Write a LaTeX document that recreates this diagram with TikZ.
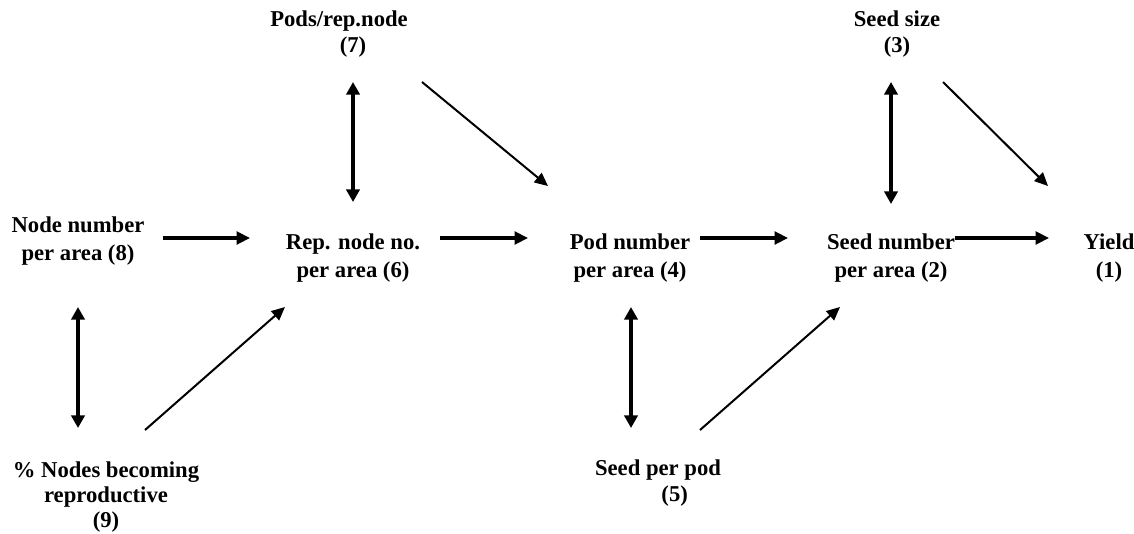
\documentclass[tikz,border=0pt]{standalone}
\usepackage{fontspec}
\setmainfont{Liberation Serif}
\usetikzlibrary{arrows.meta,calc}
\begin{document}
\begin{tikzpicture}[x=0.75pt,y=-0.75pt,
  lbl/.style={align=center,inner sep=0pt,font=\fontsize{17}{21}\selectfont\bfseries},
  lbltop/.style={lbl,font=\fontsize{17}{19.5}\selectfont\bfseries},
  lblthree/.style={lbl,font=\fontsize{17}{18.75}\selectfont\bfseries},
  thickarr/.style={line width=2.3pt,-{Triangle[length=10pt,width=9.5pt]}},
  thickdbl/.style={line width=2.3pt,{Triangle[length=9.5pt,width=10pt]}-{Triangle[length=9.5pt,width=10pt]}},
  thinarr/.style={line width=1.5pt,-{Triangle[length=10pt,width=9pt]}}]
\useasboundingbox (0,0) rectangle (1134,533);
\node[lbl] (n8) at (78,241) {Node number\\per area (8)};
\node[lbl] (n6) at (353,258) {Rep. node no.\\per area (6)};
\node[lbl] (n4) at (630,258) {Pod number\\per area (4)};
\node[lbl] (n2) at (891,258) {Seed number\\per area (2)};
\node[lbl] (n1) at (1109,258) {Yield\\(1)};
\node[lbltop] (n7) at (339,34) {Pods/rep.node\\\hspace*{21pt}(7)};
\node[lbltop] (n3) at (897,34) {Seed size\\(3)};
\node[lblthree] (n9) at (106,497) {\% Nodes becoming\\reproductive\\(9)};
\node[lbltop] (n5) at (658,483) {Seed per pod\\\hspace*{25pt}(5)};
% horizontal
\draw[thickarr] ($(n8)+(85,-3)$) -- ($(n6)+(-103,-20)$);
\draw[thickarr] ($(n6)+(87,-20)$) -- ($(n4)+(-102,-20)$);
\draw[thickarr] ($(n4)+(70,-20)$) -- ($(n2)+(-103,-20)$);
\draw[thickarr] ($(n2)+(64,-20)$) -- ($(n1)+(-60,-20)$);
% vertical double
\draw[thickdbl] ($(n7)+(14,48)$) -- ($(n6)+(0,-56)$);
\draw[thickdbl] ($(n3)+(-6,48)$) -- ($(n2)+(0,-54)$);
\draw[thickdbl] ($(n8)+(0,66)$) -- ($(n9)+(-28,-69)$);
\draw[thickdbl] ($(n4)+(1,49)$) -- ($(n5)+(-27,-55)$);
% diagonals
\draw[thinarr] ($(n7)+(83,48)$) -- ($(n4)+(-82,-72)$);
\draw[thinarr] ($(n3)+(46,48)$) -- ($(n1)+(-61,-72)$);
\draw[thinarr] ($(n9)+(39,-67)$) -- ($(n6)+(-68,49)$);
\draw[thinarr] ($(n5)+(42,-53)$) -- ($(n2)+(-51,49)$);
\end{tikzpicture}
\end{document}
